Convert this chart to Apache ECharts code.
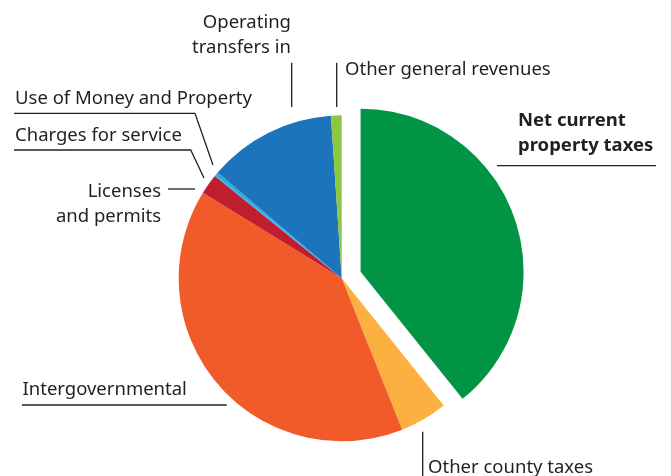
<!DOCTYPE html>
<html>
<head>
<meta charset="utf-8">
<script src="https://cdn.jsdelivr.net/npm/echarts@6/dist/echarts.min.js"></script>
<style>
html,body{margin:0;padding:0;background:#fff;}
#chart{width:671px;height:476px;}
</style>
</head>
<body>
<div id="chart"></div>
<script>
// Data (percent shares)
const categories = [
  'Net current property taxes',
  'Other county taxes',
  'Intergovernmental',
  'Licenses and permits',
  'Charges for service',
  'Use of Money and Property',
  'Operating transfers in',
  'Other general revenues'
];
const values = [39.2, 4.7, 39.8, 2.0, 0.15, 0.3, 12.7, 1.05];
const labelTexts = [
  'Net current\nproperty taxes',
  'Other county taxes',
  'Intergovernmental',
  'Licenses\nand permits',
  'Charges for service',
  'Use of Money and Property',
  'Operating\ntransfers in',
  'Other general revenues'
];
const explodedIndex = 0;

const colors = ['#009444', '#fbb040', '#f15a29', '#be1e2d', '#27aae1', '#27aae1', '#1c75bc', '#8dc63f'];

// label placement (styling)
const layouts = {
  'Net current property taxes': {x: 518, y: 133.5, align: 'left', pts: [[497, 165.7], [576, 165.7], [656, 165.7]]},
  'Other county taxes': {x: 428, y: 467.5, align: 'left', pts: [[422.7, 431.7], [422.7, 454], [422.7, 476]]},
  'Intergovernmental': {x: 22.5, y: 389.5, align: 'left', pts: [[226.7, 405], [120, 405], [22, 405]]},
  'Licenses and permits': {x: 161, y: 204, align: 'right', pts: [[195, 189], [180, 189], [168, 189]]},
  'Charges for service': {x: 15, y: 136, align: 'left', pts: [[204, 178], [190.7, 150], [14, 150]]},
  'Use of Money and Property': {x: 15, y: 99, align: 'left', pts: [[213, 165], [195, 113.3], [14, 113.3]]},
  'Operating transfers in': {x: 291, y: 35, align: 'right', pts: [[291.7, 107], [291.7, 85], [291.7, 62.7]]},
  'Other general revenues': {x: 345, y: 69.5, align: 'left', pts: [[336.7, 107], [336.7, 85], [336.7, 62.7]]}
};

const center = [341.7, 278.3];
const R = 163;
// explode offset along the bisector of the exploded slice
const total = values.reduce((a, b) => a + b, 0);
let before = 0;
for (let i = 0; i < explodedIndex; i++) before += values[i];
const midAngle = (before + values[explodedIndex] / 2) / total * 2 * Math.PI; // clockwise from top
const offset = 20;
const center2 = [center[0] + offset * Math.sin(midAngle), center[1] - offset * Math.cos(midAngle)];

const baseData = categories.map((name, i) => ({
  name: name,
  value: values[i],
  itemStyle: {color: i === explodedIndex ? 'rgba(0,0,0,0)' : colors[i]},
  label: i === explodedIndex ? {fontWeight: 'bold'} : {}
}));
const explodedData = categories.map((name, i) => ({
  name: name,
  value: values[i],
  itemStyle: {color: i === explodedIndex ? colors[i] : 'rgba(0,0,0,0)'}
}));

const chart = echarts.init(document.getElementById('chart'), null, {renderer: 'canvas'});
chart.setOption({
  animation: false,
  backgroundColor: '#fff',
  series: [{
    type: 'pie',
    center: center,
    radius: R,
    startAngle: 90,
    clockwise: true,
    avoidLabelOverlap: false,
    itemStyle: {borderWidth: 0},
    label: {
      show: true,
      formatter: p => labelTexts[p.dataIndex],
      color: '#231f20',
      fontFamily: 'Noto Sans',
      fontSize: 18.5,
      lineHeight: 25
    },
    labelLine: {
      show: true,
      lineStyle: {color: '#231f20', width: 1.3}
    },
    labelLayout: function (params) {
      const L = layouts[categories[params.dataIndex]];
      return {
        x: L.x,
        y: L.y,
        align: L.align,
        verticalAlign: 'middle',
        labelLinePoints: L.pts,
        hideOverlap: false
      };
    },
    emphasis: {disabled: true},
    data: baseData
  }, {
    type: 'pie',
    center: center2,
    radius: R,
    startAngle: 90,
    clockwise: true,
    silent: true,
    itemStyle: {borderWidth: 0},
    label: {show: false},
    labelLine: {show: false},
    emphasis: {disabled: true},
    data: explodedData
  }]
});
</script>
</body>
</html>
